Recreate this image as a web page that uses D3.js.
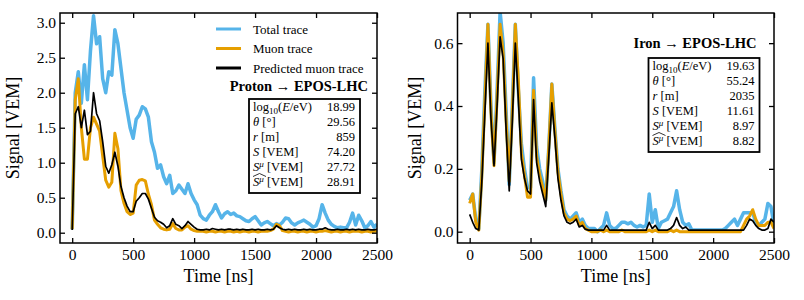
<!DOCTYPE html>
<html>
<head>
<meta charset="utf-8">
<script src="https://cdn.jsdelivr.net/npm/d3@7"></script>
<style>
  body { margin: 0; background: #fff; }
  svg text { font-family: "Liberation Serif", "Times New Roman", serif; fill: #000; }
</style>
</head>
<body>
<div class="chart"></div>
<script>
// time bins of the traces (ns)
var timeBins = d3.range(0, 2501, 25);
var xTicks = [0, 500, 1000, 1500, 2000, 2500];

var legendLabels = ["Total trace", "Muon trace", "Predicted muon trace"];
var seriesColors = ["#56b4e9", "#e69f00", "#000000"];
var seriesWidths = [3.5, 3, 1.7];

// proton shower
var protonTotal = [0.05, 2.0, 2.3, 1.85, 2.4, 1.9, 2.6, 3.1, 2.7, 2.8,
  2.2, 2.0, 2.3, 2.25, 2.9, 2.7, 2.35, 2.0, 1.75, 1.5,
  1.35, 1.62, 1.68, 1.8, 1.77, 1.65, 1.3, 1.15, 0.92, 0.97,
  0.8, 0.7, 0.82, 0.56, 0.6, 0.68, 0.62, 0.56, 0.7, 0.56,
  0.47, 0.4, 0.25, 0.2, 0.18, 0.25, 0.3, 0.4, 0.3, 0.21,
  0.27, 0.3, 0.26, 0.28, 0.24, 0.23, 0.2, 0.17, 0.16, 0.2,
  0.23, 0.17, 0.11, 0.14, 0.16, 0.13, 0.1, 0.13, 0.11, 0.15,
  0.21, 0.2, 0.14, 0.11, 0.14, 0.16, 0.18, 0.15, 0.12, 0.08,
  0.1, 0.2, 0.4, 0.28, 0.18, 0.12, 0.09, 0.07, 0.08, 0.07,
  0.07, 0.15, 0.28, 0.11, 0.25, 0.17, 0.07, 0.1, 0.16, 0.08,
  0.12];
var protonMuon = [0.05, 1.9, 2.2, 1.5, 1.05, 1.05, 1.5, 1.65, 1.55, 1.45,
  1.1, 0.75, 0.65, 0.72, 1.42, 1.2, 0.6, 0.42, 0.3, 0.26,
  0.28, 0.68, 0.75, 0.76, 0.74, 0.55, 0.4, 0.18, 0.12, 0.07,
  0.05, 0.04, 0.05, 0.13, 0.06, 0.04, 0.04, 0.08, 0.1, 0.05,
  0.03, 0.02, 0.02, 0.02, 0.01, 0.02, 0.02, 0.01, 0.02, 0.02,
  0.01, 0.02, 0.02, 0.01, 0.02, 0.01, 0.02, 0.02, 0.01, 0.02,
  0.02, 0.01, 0.02, 0.02, 0.02, 0.03, 0.05, 0.12, 0.1, 0.03,
  0.02, 0.01, 0.02, 0.02, 0.01, 0.02, 0.02, 0.01, 0.02, 0.02,
  0.01, 0.02, 0.02, 0.03, 0.02, 0.01, 0.02, 0.02, 0.01, 0.02,
  0.02, 0.01, 0.02, 0.02, 0.02, 0.01, 0.02, 0.02, 0.01, 0.02,
  0.02];
var protonPred = [0.04, 1.7, 1.8, 1.5, 1.75, 1.4, 1.45, 2.0, 1.7, 1.6,
  1.3, 0.95, 0.85, 0.97, 1.15, 0.95, 0.66, 0.5, 0.38, 0.3,
  0.3, 0.45, 0.5, 0.56, 0.56, 0.48, 0.35, 0.22, 0.17, 0.15,
  0.12, 0.07, 0.1, 0.2, 0.12, 0.1, 0.06, 0.1, 0.16, 0.12,
  0.08, 0.05, 0.04, 0.04, 0.05, 0.04, 0.06, 0.05, 0.04, 0.05,
  0.04, 0.05, 0.05, 0.04, 0.05, 0.04, 0.05, 0.04, 0.04, 0.05,
  0.04, 0.05, 0.04, 0.04, 0.05, 0.04, 0.05, 0.1, 0.07, 0.05,
  0.04, 0.05, 0.04, 0.05, 0.04, 0.04, 0.05, 0.04, 0.05, 0.04,
  0.04, 0.05, 0.05, 0.07, 0.05, 0.04, 0.04, 0.05, 0.04, 0.04,
  0.05, 0.04, 0.05, 0.04, 0.05, 0.04, 0.04, 0.05, 0.04, 0.04,
  0.05];

// iron shower
var ironTotal = [0.1, 0.12, 0.04, 0.01, 0.2, 0.45, 0.66, 0.4, 0.22, 0.45,
  0.7, 0.6, 0.38, 0.15, 0.4, 0.66, 0.45, 0.28, 0.2, 0.14,
  0.14, 0.49, 0.27, 0.2, 0.16, 0.1, 0.27, 0.47, 0.33, 0.2,
  0.13, 0.07, 0.05, 0.04, 0.05, 0.06, 0.03, 0.04, 0.02, 0.01,
  0.01, 0.01, 0.0, 0.01, 0.02, 0.06, 0.02, 0.01, 0.01, 0.02,
  0.03, 0.03, 0.025, 0.03, 0.02, 0.015, 0.02, 0.015, 0.02, 0.12,
  0.03, 0.07, 0.01, 0.03, 0.035, 0.04, 0.06, 0.08, 0.13, 0.07,
  0.03, 0.02, 0.025, 0.005, 0.005, 0.005, 0.005, 0.005, 0.005, 0.005,
  0.005, 0.005, 0.005, 0.005, 0.01, 0.02, 0.03, 0.04, 0.02, 0.04,
  0.06, 0.06, 0.06, 0.06, 0.03, 0.02, 0.03, 0.04, 0.09, 0.08,
  0.02];
var ironMuon = [0.09, 0.12, 0.03, 0.005, 0.18, 0.42, 0.66, 0.38, 0.21, 0.43,
  0.66, 0.57, 0.35, 0.16, 0.38, 0.66, 0.48, 0.25, 0.18, 0.11,
  0.11, 0.45, 0.24, 0.18, 0.14, 0.1, 0.27, 0.47, 0.32, 0.19,
  0.12, 0.06, 0.04, 0.035, 0.04, 0.05, 0.02, 0.03, 0.01, 0.005,
  0.0, 0.0, 0.0, 0.005, 0.0, 0.005, 0.0, 0.0, 0.0, 0.0,
  0.005, 0.0, 0.0, 0.0, 0.0, 0.0, 0.0, 0.0, 0.0, 0.005,
  0.0, 0.005, 0.0, 0.0, 0.0, 0.0, 0.005, 0.0, 0.005, 0.0,
  0.0, 0.0, 0.0, 0.0, 0.0, 0.0, 0.0, 0.0, 0.0, 0.0,
  0.0, 0.0, 0.0, 0.0, 0.0, 0.0, 0.0, 0.0, 0.0, 0.0,
  0.02, 0.04, 0.05, 0.07, 0.04, 0.02, 0.02, 0.02, 0.03, 0.03,
  0.01];
var ironPred = [0.055, 0.03, 0.01, 0.005, 0.16, 0.38, 0.6, 0.36, 0.21, 0.4,
  0.62, 0.55, 0.32, 0.13, 0.35, 0.6, 0.42, 0.23, 0.17, 0.13,
  0.12, 0.42, 0.22, 0.16, 0.12, 0.08, 0.24, 0.41, 0.3, 0.17,
  0.1, 0.05, 0.03, 0.025, 0.03, 0.04, 0.015, 0.02, 0.008, 0.005,
  0.005, 0.005, 0.005, 0.005, 0.005, 0.02, 0.005, 0.005, 0.005, 0.005,
  0.005, 0.005, 0.005, 0.005, 0.005, 0.005, 0.005, 0.005, 0.005, 0.03,
  0.01, 0.02, 0.005, 0.005, 0.005, 0.005, 0.01, 0.02, 0.045, 0.02,
  0.01, 0.015, 0.005, 0.005, 0.005, 0.005, 0.005, 0.005, 0.005, 0.005,
  0.005, 0.005, 0.005, 0.005, 0.005, 0.005, 0.005, 0.005, 0.005, 0.005,
  0.005, 0.02, 0.04, 0.035, 0.02, 0.01, 0.005, 0.005, 0.01, 0.04,
  0.03];

var protonInfo = ["18.99", "29.56", "859", "74.20", "27.72", "28.91"];
var ironInfo = ["19.63", "55.24", "2035", "11.61", "8.97", "8.82"];

var svgRoot = d3
  .select(".chart")
  .append("svg")
  .attr("width", 804)
  .attr("height", 300);

// rich text for the rows of the info box
function infoLabel(t, i) {
  if (i === 0) {
    t.append("tspan").text("log");
    t.append("tspan").attr("dy", 2.5).style("font-size", "9px").text("10");
    t.append("tspan").attr("dy", -2.5).text("(");
    t.append("tspan").style("font-style", "italic").text("E");
    t.append("tspan").text("/eV)");
  } else if (i === 1) {
    t.append("tspan").style("font-style", "italic").text("\u03b8");
    t.append("tspan").text(" [\u00b0]");
  } else if (i === 2) {
    t.append("tspan").style("font-style", "italic").text("r");
    t.append("tspan").text(" [m]");
  } else if (i === 3) {
    t.append("tspan").style("font-style", "italic").text("S");
    t.append("tspan").text(" [VEM]");
  } else {
    t.append("tspan").style("font-style", "italic").text("S");
    t.append("tspan")
      .attr("dy", -4.5)
      .style("font-style", "italic")
      .style("font-size", "9px")
      .text("\u03bc");
    t.append("tspan").attr("dy", 4.5).text(" [VEM]");
  }
}

function drawPanel(cfg) {
  var g = svgRoot
    .append("g")
    .attr("transform", "translate(" + cfg.left + "," + cfg.top + ")");

  var x = d3.scaleLinear().domain([-100, 2500]).range([0, cfg.width]);
  var y = d3.scaleLinear().domain(cfg.yDomain).range([cfg.height, 0]);

  g.append("clipPath")
    .attr("id", cfg.id + "-clip")
    .append("rect")
    .attr("width", cfg.width)
    .attr("height", cfg.height);

  var line = d3
    .line()
    .x(function (d, i) { return x(timeBins[i]); })
    .y(function (d) { return y(d); });

  g.append("g")
    .attr("clip-path", "url(#" + cfg.id + "-clip)")
    .selectAll("path")
    .data(cfg.series)
    .enter()
    .append("path")
    .attr("d", line)
    .attr("fill", "none")
    .attr("stroke", function (d, i) { return seriesColors[i]; })
    .attr("stroke-width", function (d, i) { return seriesWidths[i]; })
    .attr("stroke-linejoin", "round");

  // axes, ticks pointing inward on all four sides
  var bottom = g.append("g")
    .attr("transform", "translate(0," + cfg.height + ")")
    .call(d3.axisBottom(x).tickValues(xTicks).tickSizeInner(-5).tickSizeOuter(0)
      .tickPadding(6).tickFormat(d3.format("d")));
  var top = g.append("g")
    .call(d3.axisTop(x).tickValues(xTicks).tickSizeInner(-5).tickSizeOuter(0).tickFormat(""));
  var left = g.append("g")
    .call(d3.axisLeft(y).tickValues(cfg.yTicks).tickSizeInner(-5).tickSizeOuter(0)
      .tickPadding(4).tickFormat(d3.format(".1f")));
  var right = g.append("g")
    .attr("transform", "translate(" + cfg.width + ",0)")
    .call(d3.axisRight(y).tickValues(cfg.yTicks).tickSizeInner(-5).tickSizeOuter(0).tickFormat(""));

  [bottom, top, left, right].forEach(function (a) {
    a.select(".domain").remove();
    a.selectAll(".tick line").attr("stroke", "#000").attr("stroke-width", 1.3);
    a.selectAll("text")
      .style("font-family", '"Liberation Serif", serif')
      .style("font-size", "15.5px")
      .attr("fill", "#000");
  });

  g.append("rect")
    .attr("width", cfg.width)
    .attr("height", cfg.height)
    .attr("fill", "none")
    .attr("stroke", "#000")
    .attr("stroke-width", 1.5);

  g.append("text")
    .attr("x", cfg.width / 2)
    .attr("y", cfg.height + 39)
    .attr("text-anchor", "middle")
    .style("font-size", "18px")
    .text("Time [ns]");

  g.append("text")
    .attr("transform", "translate(" + cfg.yLabelX + "," + cfg.height / 2 + ") rotate(-90)")
    .attr("text-anchor", "middle")
    .style("font-size", "18px")
    .text("Signal [VEM]");

  // title
  g.append("text")
    .attr("x", cfg.titleX)
    .attr("y", cfg.titleY)
    .attr("text-anchor", "end")
    .style("font-size", "14.5px")
    .style("font-weight", "bold")
    .text(cfg.title);

  // info box
  var box = g.append("g").attr("transform", "translate(" + cfg.box[0] + "," + cfg.box[1] + ")");
  box.append("rect")
    .attr("width", cfg.box[2])
    .attr("height", cfg.box[3])
    .attr("fill", "#fff")
    .attr("stroke", "#000")
    .attr("stroke-width", 1.8);
  cfg.info.forEach(function (v, i) {
    var by = 12 + i * 15;
    var t = box.append("text")
      .attr("x", 4)
      .attr("y", by)
      .style("font-size", "12.5px");
    infoLabel(t, i);
    box.append("text")
      .attr("x", cfg.box[2] - 5)
      .attr("y", by)
      .attr("text-anchor", "end")
      .style("font-size", "12.5px")
      .text(v);
    if (i === 5) {
      box.append("path")
        .attr("d", "M4," + (by - 9.5) + "L10.5," + (by - 12.5) + "L17," + (by - 9.5))
        .attr("fill", "none")
        .attr("stroke", "#000")
        .attr("stroke-width", 0.8);
    }
  });

  return g;
}

var protonPanel = drawPanel({
  id: "proton",
  left: 60, top: 13, width: 317, height: 230,
  yDomain: [-0.147, 3.139],
  yTicks: [0, 0.5, 1.0, 1.5, 2.0, 2.5, 3.0],
  series: [protonTotal, protonMuon, protonPred],
  yLabelX: -41,
  title: "Proton \u2192 EPOS-LHC",
  titleX: 308, titleY: 78,
  box: [189, 86, 111, 94],
  info: protonInfo
});

drawPanel({
  id: "iron",
  left: 457.5, top: 13, width: 316.5, height: 230,
  yDomain: [-0.036, 0.696],
  yTicks: [0, 0.2, 0.4, 0.6],
  series: [ironTotal, ironMuon, ironPred],
  yLabelX: -37,
  title: "Iron \u2192 EPOS-LHC",
  titleX: 299, titleY: 35,
  box: [191, 45, 111, 94],
  info: ironInfo
});

// legend (left panel only)
var legend = protonPanel.append("g").attr("transform", "translate(156,16)");
legendLabels.forEach(function (lab, i) {
  var ly = i * 19.5;
  legend.append("line")
    .attr("x1", 0).attr("x2", 25)
    .attr("y1", ly).attr("y2", ly)
    .attr("stroke", seriesColors[i])
    .attr("stroke-width", 3);
  legend.append("text")
    .attr("x", 37)
    .attr("y", ly + 4.5)
    .style("font-size", "13px")
    .text(lab);
});
</script>
</body>
</html>
